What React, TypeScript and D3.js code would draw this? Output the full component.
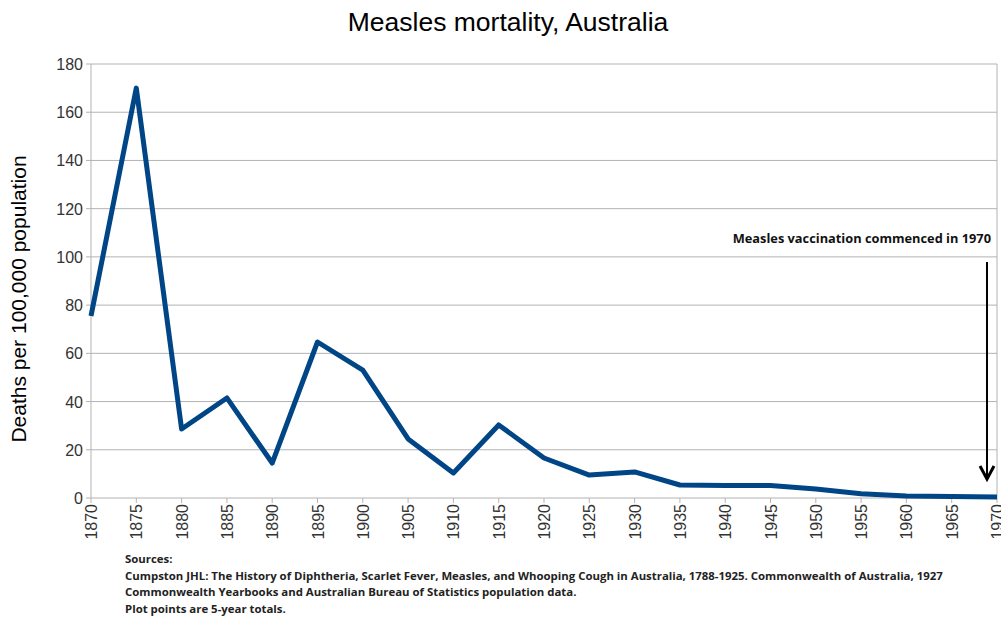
import React from "react";
import * as d3 from "d3";

const years = [1870,1875,1880,1885,1890,1895,1900,1905,1910,1915,1920,1925,1930,1935,1940,1945,1950,1955,1960,1965,1970];
const deaths = [75.5,170,28.6,41.5,14.5,64.7,53,24.5,10.4,30.3,16.6,9.5,10.8,5.4,5.2,5.2,3.7,1.8,0.8,0.6,0.4];
const yTicks = [0,20,40,60,80,100,120,140,160,180];
const title = "Measles mortality, Australia";
const yLabel = "Deaths per 100,000 population";
const annotation = "Measles vaccination commenced in 1970";
const sources = [
  "Sources:",
  "Cumpston JHL: The History of Diphtheria, Scarlet Fever, Measles, and Whooping Cough in Australia, 1788-1925. Commonwealth of Australia, 1927",
  "Commonwealth Yearbooks and Australian Bureau of Statistics population data.",
  "Plot points are 5-year totals.",
];

export default function App() {
  const W = 1001, H = 617;
  const left = 91, right = 997, top = 64, bottom = 498;
  const x = d3.scaleLinear().domain([1870, 1970]).range([left, right]);
  const y = d3.scaleLinear().domain([0, 180]).range([bottom, top]);
  const line = d3.line<number>().x((_, i) => x(years[i])).y((d) => y(d));
  const arrowX = 987;
  return (
    <svg width={W} height={H} style={{ position: "absolute", left: 0, top: 0, background: "#fff" }}>
      <text x={508} y={31} textAnchor="middle" fontFamily="Liberation Sans, Arial, sans-serif" fontSize={26.5} fill="#000">{title}</text>
      {yTicks.map((t) => (
        <g key={t}>
          <line x1={left} x2={right} y1={y(t)} y2={y(t)} stroke="#b3b3b3" strokeWidth={1} />
          <line x1={left - 5} x2={left} y1={y(t)} y2={y(t)} stroke="#b3b3b3" />
          <text x={left - 8} y={y(t) + 6} textAnchor="end" fontFamily="Liberation Sans, Arial, sans-serif" fontSize={16} fill="#333">{t}</text>
        </g>
      ))}
      <line x1={left} x2={left} y1={top} y2={bottom} stroke="#b3b3b3" />
      <line x1={right} x2={right} y1={top} y2={bottom} stroke="#b3b3b3" />
      {years.map((yr) => (
        <g key={yr}>
          <line x1={x(yr)} x2={x(yr)} y1={bottom} y2={bottom + 5} stroke="#b3b3b3" />
          <text transform={`translate(${x(yr) + 6},${bottom + 6}) rotate(-90)`} textAnchor="end" fontFamily="Liberation Sans, Arial, sans-serif" fontSize={16} fill="#333">{yr}</text>
        </g>
      ))}
      <text transform={`translate(26,299) rotate(-90)`} textAnchor="middle" fontFamily="Liberation Sans, Arial, sans-serif" fontSize={21} fill="#000">{yLabel}</text>
      <path d={line(deaths) || ""} fill="none" stroke="#004586" strokeWidth={5} strokeLinejoin="round" />
      <text x={991} y={243} textAnchor="end" fontFamily="Open Sans, sans-serif" fontWeight="bold" fontSize={12.8} fill="#111">{annotation}</text>
      <line x1={arrowX} x2={arrowX} y1={262} y2={478} stroke="#000" strokeWidth={2} />
      <path d={`M${arrowX - 7},${466} L${arrowX},${479} L${arrowX + 7},${466}`} fill="none" stroke="#000" strokeWidth={3} />
      {sources.map((s, i) => (
        <text key={i} x={125} y={563 + i * 16.5} fontFamily="Open Sans, sans-serif" fontWeight="bold" fontSize={11.4} fill="#222">{s}</text>
      ))}
    </svg>
  );
}
